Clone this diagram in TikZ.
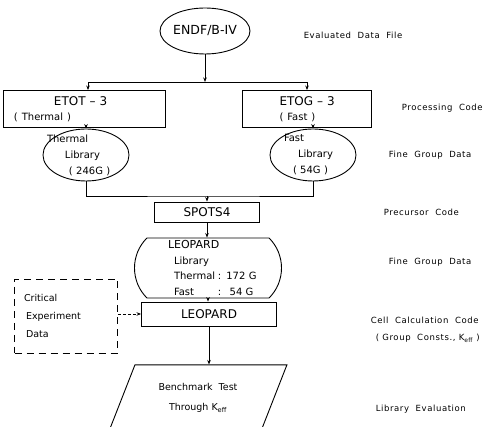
\documentclass[tikz,border=0pt]{standalone}
\usepackage{fontspec}
\setmainfont{DejaVu Sans}
\newfontfamily\widefont[LetterSpace=7]{DejaVu Sans}
\usetikzlibrary{shapes.geometric,shapes.misc,arrows.meta,positioning,calc}

\begin{document}
\begin{tikzpicture}[
  x=1pt, y=-1pt,
  line width=0.9pt,
  datafile/.style={ellipse, draw, minimum width=90pt, minimum height=46pt,
                   inner sep=0pt, font=\fontsize{12.5}{14}\selectfont},
  codebox/.style={draw, inner sep=0pt, align=left,
                  font=\fontsize{12}{14}\selectfont},
  finelib/.style={ellipse, draw, inner xsep=0pt, inner ysep=-6pt, text width=60pt,
                  minimum width=86pt, minimum height=52pt,
                  align=left, font=\fontsize{10}{16}\selectfont},
  leolib/.style={rounded rectangle, rounded rectangle arc length=90, draw,
                 inner sep=0pt, text width=104pt, minimum width=147pt,
                 minimum height=60pt, align=left,
                 font=\fontsize{10}{15.5}\selectfont},
  critbox/.style={draw, dash pattern=on 7pt off 5pt, inner sep=0pt,
                  text width=84pt, minimum width=103pt, minimum height=74pt,
                  align=left, font=\fontsize{9.5}{18}\selectfont},
  bench/.style={trapezium, trapezium left angle=64, trapezium right angle=116,
                trapezium stretches=true, draw, minimum width=178pt,
                minimum height=66pt, align=center,
                font=\fontsize{9.5}{20}\selectfont},
  sidetext/.style={anchor=west, font=\widefont\fontsize{8.5}{10}\selectfont},
  arr/.style={-{Stealth[length=4.5pt,width=3.5pt]}},
  darr/.style={arr, dash pattern=on 3pt off 2pt}
]
\clip (0,0) rectangle (491,427);

\node[datafile] (endf) at (205,31) {ENDF/B-IV};

% Processing codes
\node[codebox, minimum width=162pt, minimum height=37pt, text width=150pt] (etot) at (84,109)
  {\hspace*{45pt}ETOT -- 3\\[1pt]{\fontsize{10}{12}\selectfont\hspace*{5pt}( Thermal )}};
\node[codebox, minimum width=129pt, minimum height=37pt, text width=119pt] (etog) at (307,109)
  {\hspace*{32pt}ETOG -- 3\\[1pt]{\fontsize{10}{12}\selectfont\hspace*{32pt}( Fast )}};

% Fine group libraries
\node[finelib] (tlib) at (86,155)
  {\hspace*{-9pt}Thermal\\\hspace*{9pt}Library\\\hspace*{13pt}( 246G )};
\node[finelib] (flib) at (313,155)
  {\hspace*{1pt}Fast\\\hspace*{15pt}Library\\\hspace*{10pt}( 54G )};

\node[codebox, minimum width=105pt, minimum height=20pt, align=center] (spots) at (207,212) {SPOTS4};

\node[leolib] (leo) at (208,268)
  {\hspace*{12pt}{\fontsize{11}{13}\selectfont LEOPARD}\\
   \hspace*{18pt}Library\\
   \hspace*{18pt}\makebox[44pt][l]{Thermal}: 172 G\\
   \hspace*{18pt}\makebox[44pt][l]{Fast}: \ 54 G};

\node[codebox, minimum width=135pt, minimum height=24pt, align=center] (leopard) at (209,314) {LEOPARD};

\node[critbox] (crit) at (66,316)
  {\hspace*{0pt}Critical\\\hspace*{2pt}Experiment\\\hspace*{2pt}Data};

\node[bench, below=38pt of leopard, xshift=-11pt] (bench)
  {Benchmark\ \ Test\\Through K\textsubscript{eff}};

% Connectors
\coordinate (split) at (205,82);
\coordinate (merge) at (207,196);
\draw[arr] (endf.south) -- (split);
\draw[arr] (split) -| ([xshift=4pt]etot.north);
\draw[arr] (split) -| (etog.north);
\draw[arr] (etot.south -| tlib) -- (tlib);
\draw[arr] (etog.south -| flib) -- (flib);
\draw (tlib.south) |- (merge) -| (flib.south);
\draw[arr] (merge) -- (spots.north);
\draw[arr] (spots.south) -- (spots.south |- leo.north);
\draw[arr] (leo.south) -- (leo.south |- leopard.north);
\draw[darr] (crit.east |- leopard) -- (leopard.west);
\draw[arr] (leopard.south) -- (leopard.south |- bench.north);

% Side labels
\node[sidetext] (l-eval) at (300,35) {Evaluated\ \ Data\ \ File};
\node[sidetext] (l-proc) at (398,108) {Processing\ \ Code};
\node[sidetext] (l-fine1) at (385,155) {Fine\ \ Group\ \ Data};
\node[sidetext] (l-prec) at (380,212) {Precursor\ \ Code};
\node[sidetext] (l-fine2) at (385,262) {Fine\ \ Group\ \ Data};
\node[sidetext] (l-cell) at (367,320) {Cell\ \ Calculation\ \ Code};
\node[sidetext] (l-const) at (372,338) {( Group\ \ Consts.,\ K\textsubscript{eff} )};
\node[sidetext] (l-libev) at (372,409) {Library\ \ Evaluation};
\end{tikzpicture}
\end{document}
